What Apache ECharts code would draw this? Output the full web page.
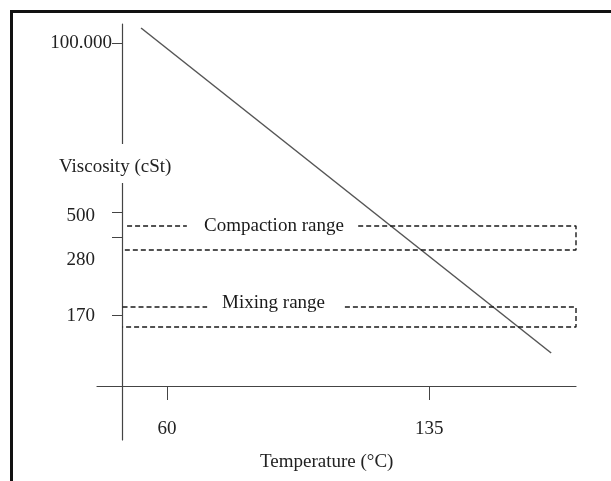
<!DOCTYPE html>
<html>
<head>
<meta charset="utf-8">
<script src="https://cdn.jsdelivr.net/npm/echarts@6/dist/echarts.min.js"></script>
<style>
  html, body { margin: 0; padding: 0; background: #fff; }
  #main { position: absolute; left: 0; top: 0; width: 611px; height: 481px; }
  /* thick frame on left and top */
  #frame {
    position: absolute; left: 10px; top: 10px; width: 601px; height: 471px;
    border-left: 3px solid #111; border-top: 3px solid #111; pointer-events: none;
  }
</style>
</head>
<body>
<div id="main"></div>
<div id="frame"></div>
<script>
// temperature ticks (°C)
let tempTicks = [60, 135];
// viscosity axis: schematic levels (not to scale), label text
let viscTickLevels = [343, 174, 149, 71];
let viscLabelLevels = [343, 170, 126, 70];
let viscLabels = ["100.000", "500", "280", "170"];

// viscosity-temperature line (temperature, level)
let lineTemp = [52.6, 169.9];
let lineLevel = [358, 33];

// ranges: dashed boxes
let rangeNames = ["Compaction range", "Mixing range"];
let rangeTop = [160, 79];
let rangeBottom = [136, 59];
let rangeStart = [48.6, 47.3]; // where upper dashes begin
let rangeGapFrom = [65.7, 71.5]; // gap in upper dashes for the text
let rangeGapTo = [114.7, 110.9];
let rangeLabelTemp = [90.6, 90.5];
let rangeLabelLevel = [160, 82.5];
let boxLeft = 47.3;
let boxRight = 177;

let serif = "Liberation Serif";
let series = [];

series.push({
  type: "line",
  data: [
    [lineTemp[0], lineLevel[0]],
    [lineTemp[1], lineLevel[1]],
  ],
  symbol: "none",
  lineStyle: { color: "#555", width: 1.5 },
  z: 3,
});

rangeNames.forEach(function (name, i) {
  let dash = { color: "#1a1a1a", width: 1.4, type: [5, 3] };
  // upper left part
  series.push({
    type: "line",
    symbol: "none",
    lineStyle: dash,
    data: [
      [rangeStart[i], rangeTop[i]],
      [rangeGapFrom[i], rangeTop[i]],
    ],
  });
  // upper right, right side, bottom
  series.push({
    type: "line",
    symbol: "none",
    lineStyle: dash,
    data: [
      [rangeGapTo[i], rangeTop[i]],
      [boxRight, rangeTop[i]],
      [boxRight, rangeBottom[i]],
      [boxLeft, rangeBottom[i]],
    ],
  });
  // range text
  series.push({
    type: "scatter",
    symbolSize: 0,
    itemStyle: { color: "#222", opacity: 1 },
    label: {
      show: true,
      position: "inside",
      formatter: name,
      fontFamily: serif,
      fontSize: 19,
      color: "#1a1a1a",
      opacity: 1,
    },
    data: [[rangeLabelTemp[i], rangeLabelLevel[i]]],
  });
});

let chart = echarts.init(document.getElementById("main"));
let option = {
  animation: false,
  title: [
    {
      text: "Viscosity (cSt)",
      left: 56,
      top: 144,
      padding: [14, 3, 6, 3],
      backgroundColor: "#fff",
      textStyle: { fontFamily: serif, fontSize: 19, fontWeight: "normal", color: "#222" },
    },
    {
      text: "Temperature (°C)",
      left: 260,
      top: 453,
      padding: 0,
      textStyle: { fontFamily: serif, fontSize: 19, fontWeight: "normal", color: "#222" },
    },
  ],
  grid: { left: 97, right: 35, top: 24, bottom: 41, outerBoundsMode: "none" },
  xAxis: {
    type: "value",
    min: 40,
    max: 177,
    axisLine: { onZero: true, lineStyle: { color: "#444", width: 1.2 } },
    axisTick: { customValues: tempTicks, length: 14, lineStyle: { color: "#444" } },
    axisLabel: {
      customValues: tempTicks,
      margin: -20, // labels sit just above the grid bottom
      fontFamily: serif,
      fontSize: 19,
      color: "#222",
    },
    splitLine: { show: false },
  },
  yAxis: [
    {
      type: "value",
      position: "left",
      min: -54,
      max: 362,
      offset: -25,
      axisLine: { show: true, onZero: false, lineStyle: { color: "#444", width: 1.2 } },
      axisTick: { show: true, customValues: viscTickLevels, length: 10, lineStyle: { color: "#444" } },
      axisLabel: {
        customValues: [viscLabelLevels[0]],
        margin: 10,
        fontFamily: serif,
        fontSize: 19,
        color: "#222",
        formatter: function (v) {
          return viscLabels[viscLabelLevels.indexOf(v)];
        },
      },
      splitLine: { show: false },
    },
    {
      type: "value",
      position: "left",
      min: -54,
      max: 362,
      offset: -25,
      axisLine: { show: false, onZero: false },
      axisTick: { show: false },
      axisLabel: {
        customValues: viscLabelLevels.slice(1),
        margin: 27,
        fontFamily: serif,
        fontSize: 19,
        color: "#222",
        formatter: function (v) {
          return viscLabels[viscLabelLevels.indexOf(v)];
        },
      },
      splitLine: { show: false },
    },
  ],
  series: series,
};
chart.setOption(option);
</script>
</body>
</html>
